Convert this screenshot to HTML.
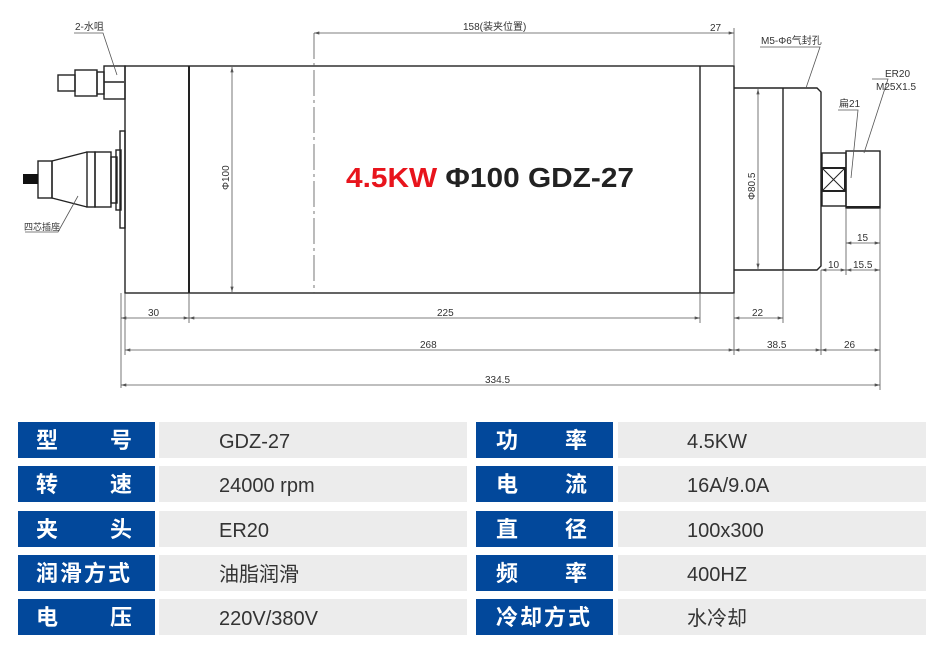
<!DOCTYPE html>
<html><head><meta charset="utf-8"><style>
html,body{margin:0;padding:0;background:#fff;width:946px;height:648px;overflow:hidden}
svg{position:absolute;left:0;top:0}
.t{font-family:"Liberation Sans","Noto Sans CJK SC",sans-serif}
</style></head><body>
<svg width="946" height="648" viewBox="0 0 946 648" xmlns="http://www.w3.org/2000/svg">
<defs>
<marker id="a" viewBox="0 0 10 6" refX="10" refY="3" markerWidth="8" markerHeight="4" orient="auto-start-reverse"><path d="M0,0L10,3L0,6z" fill="#555"/></marker>
</defs>
<g fill="none" stroke="#222" stroke-width="1.4">
<rect x="125" y="66" width="609" height="227"/>
<line x1="189" y1="66" x2="189" y2="293" stroke-width="2"/>
<line x1="700" y1="66" x2="700" y2="293"/>
<path d="M734,88 H817 L821,92 V266 L817,270 H734"/>
<line x1="783" y1="88" x2="783" y2="270"/>
<rect x="822" y="153" width="24" height="53"/>
<rect x="822" y="168" width="23" height="23" stroke-width="2"/>
<path d="M822,168L845,191M845,168L822,191" stroke-width="1"/>
<rect x="846" y="151" width="34" height="57"/>
<line x1="846" y1="207" x2="880" y2="207" stroke-width="2"/>
<rect x="104" y="66" width="21" height="33"/>
<path d="M104,82 L124,82"/>
<rect x="75" y="70" width="22" height="26"/>
<rect x="97" y="72" width="7" height="22"/>
<rect x="58" y="75" width="17" height="16"/>
<rect x="120" y="131" width="5" height="97"/>
<rect x="116" y="150" width="5" height="60"/>
<rect x="111" y="157" width="6" height="46"/>
<rect x="95" y="152" width="16" height="55"/>
<rect x="87" y="152" width="8" height="55"/>
<path d="M87,152 L52,161 L52,198 L87,207"/>
<rect x="38" y="161" width="14" height="37"/>
</g>
<rect x="23" y="174" width="15" height="10" fill="#111"/>
<g stroke="#555" stroke-width="0.8" fill="none">
<line x1="314" y1="33" x2="314" y2="293" stroke-dasharray="26,4,3,4"/>
<line x1="314" y1="33" x2="700" y2="33" marker-start="url(#a)"/>
<line x1="700" y1="33" x2="734" y2="33" marker-end="url(#a)"/>
<line x1="734" y1="28" x2="734" y2="66"/>
<line x1="232" y1="67" x2="232" y2="292" marker-start="url(#a)" marker-end="url(#a)"/>
<line x1="758" y1="89" x2="758" y2="269" marker-start="url(#a)" marker-end="url(#a)"/>
<line x1="121" y1="293" x2="121" y2="388"/>
<line x1="125" y1="293" x2="125" y2="355"/>
<line x1="189" y1="293" x2="189" y2="323"/>
<line x1="700" y1="293" x2="700" y2="323"/>
<line x1="734" y1="293" x2="734" y2="355"/>
<line x1="783" y1="270" x2="783" y2="323"/>
<line x1="821" y1="270" x2="821" y2="355"/>
<line x1="880" y1="208" x2="880" y2="390"/>
<line x1="846" y1="208" x2="846" y2="275"/>
<line x1="121" y1="318" x2="189" y2="318" marker-start="url(#a)" marker-end="url(#a)"/>
<line x1="189" y1="318" x2="700" y2="318" marker-start="url(#a)" marker-end="url(#a)"/>
<line x1="734" y1="318" x2="783" y2="318" marker-start="url(#a)" marker-end="url(#a)"/>
<line x1="125" y1="350" x2="734" y2="350" marker-start="url(#a)" marker-end="url(#a)"/>
<line x1="734" y1="350" x2="821" y2="350" marker-start="url(#a)" marker-end="url(#a)"/>
<line x1="821" y1="350" x2="880" y2="350" marker-start="url(#a)" marker-end="url(#a)"/>
<line x1="121" y1="385" x2="880" y2="385" marker-start="url(#a)" marker-end="url(#a)"/>
<line x1="846" y1="243" x2="880" y2="243" marker-start="url(#a)" marker-end="url(#a)"/>
<line x1="821" y1="270" x2="846" y2="270" marker-start="url(#a)" marker-end="url(#a)"/>
<line x1="846" y1="270" x2="880" y2="270" marker-start="url(#a)" marker-end="url(#a)"/>
<path d="M74,33 H103 L117,75"/>
<path d="M760,47 H820 L806,88"/>
<path d="M838,110 H858 L851,178"/>
<path d="M872,79 H888 L864,153"/>
<path d="M25,232 H58 L78,196"/>
</g>
<g class="t" fill="#333" font-size="10">
<text x="75" y="30">2-水咀</text>
<text x="761" y="44">M5-Φ6气封孔</text>
<text x="839" y="107">扁21</text>
<text x="885" y="77">ER20</text>
<text x="876" y="90">M25X1.5</text>
<text x="24" y="230" font-size="9">四芯插座</text>
<text x="463" y="30">158(装夹位置)</text>
<text x="710" y="31">27</text>
<text x="148" y="316">30</text>
<text x="437" y="316">225</text>
<text x="752" y="316">22</text>
<text x="420" y="348">268</text>
<text x="767" y="348">38.5</text>
<text x="844" y="348">26</text>
<text x="485" y="383">334.5</text>
<text x="857" y="241">15</text>
<text x="828" y="268">10</text>
<text x="853" y="268">15.5</text>
<text transform="translate(229,190) rotate(-90)">Φ100</text>
<text transform="translate(755,200) rotate(-90)">Φ80.5</text>
</g>
<text class="t" x="346" y="187" font-size="28" font-weight="bold" fill="#222" textLength="288" lengthAdjust="spacingAndGlyphs"><tspan fill="#e8141c">4.5KW</tspan> Φ100 GDZ-27</text>
<g>
<rect x="18" y="422" width="137" height="36" fill="#02489b"/><rect x="159" y="422" width="308" height="36" fill="#ececec"/>
<rect x="18" y="466" width="137" height="36" fill="#02489b"/><rect x="159" y="466" width="308" height="36" fill="#ececec"/>
<rect x="18" y="511" width="137" height="36" fill="#02489b"/><rect x="159" y="511" width="308" height="36" fill="#ececec"/>
<rect x="18" y="555" width="137" height="36" fill="#02489b"/><rect x="159" y="555" width="308" height="36" fill="#ececec"/>
<rect x="18" y="599" width="137" height="36" fill="#02489b"/><rect x="159" y="599" width="308" height="36" fill="#ececec"/>
<rect x="476" y="422" width="137" height="36" fill="#02489b"/><rect x="618" y="422" width="308" height="36" fill="#ececec"/>
<rect x="476" y="466" width="137" height="36" fill="#02489b"/><rect x="618" y="466" width="308" height="36" fill="#ececec"/>
<rect x="476" y="511" width="137" height="36" fill="#02489b"/><rect x="618" y="511" width="308" height="36" fill="#ececec"/>
<rect x="476" y="555" width="137" height="36" fill="#02489b"/><rect x="618" y="555" width="308" height="36" fill="#ececec"/>
<rect x="476" y="599" width="137" height="36" fill="#02489b"/><rect x="618" y="599" width="308" height="36" fill="#ececec"/>
</g>
<g class="t" fill="#fff" font-size="22" font-weight="bold">
<text x="36" y="448">型</text><text x="110" y="448">号</text>
<text x="36" y="492">转</text><text x="110" y="492">速</text>
<text x="36" y="537">夹</text><text x="110" y="537">头</text>
<text x="36" y="581" letter-spacing="2">润滑方式</text>
<text x="36" y="625">电</text><text x="110" y="625">压</text>
<text x="496" y="448">功</text><text x="565" y="448">率</text>
<text x="496" y="492">电</text><text x="565" y="492">流</text>
<text x="496" y="537">直</text><text x="565" y="537">径</text>
<text x="496" y="581">频</text><text x="565" y="581">率</text>
<text x="496" y="625" letter-spacing="2">冷却方式</text>
</g>
<g class="t" fill="#333" font-size="20">
<text x="219" y="448">GDZ-27</text>
<text x="219" y="492">24000 rpm</text>
<text x="219" y="537">ER20</text>
<text x="219" y="581">油脂润滑</text>
<text x="219" y="625">220V/380V</text>
<text x="687" y="448">4.5KW</text>
<text x="687" y="492">16A/9.0A</text>
<text x="687" y="537">100x300</text>
<text x="687" y="581">400HZ</text>
<text x="687" y="625">水冷却</text>
</g>
</svg>
</body></html>
